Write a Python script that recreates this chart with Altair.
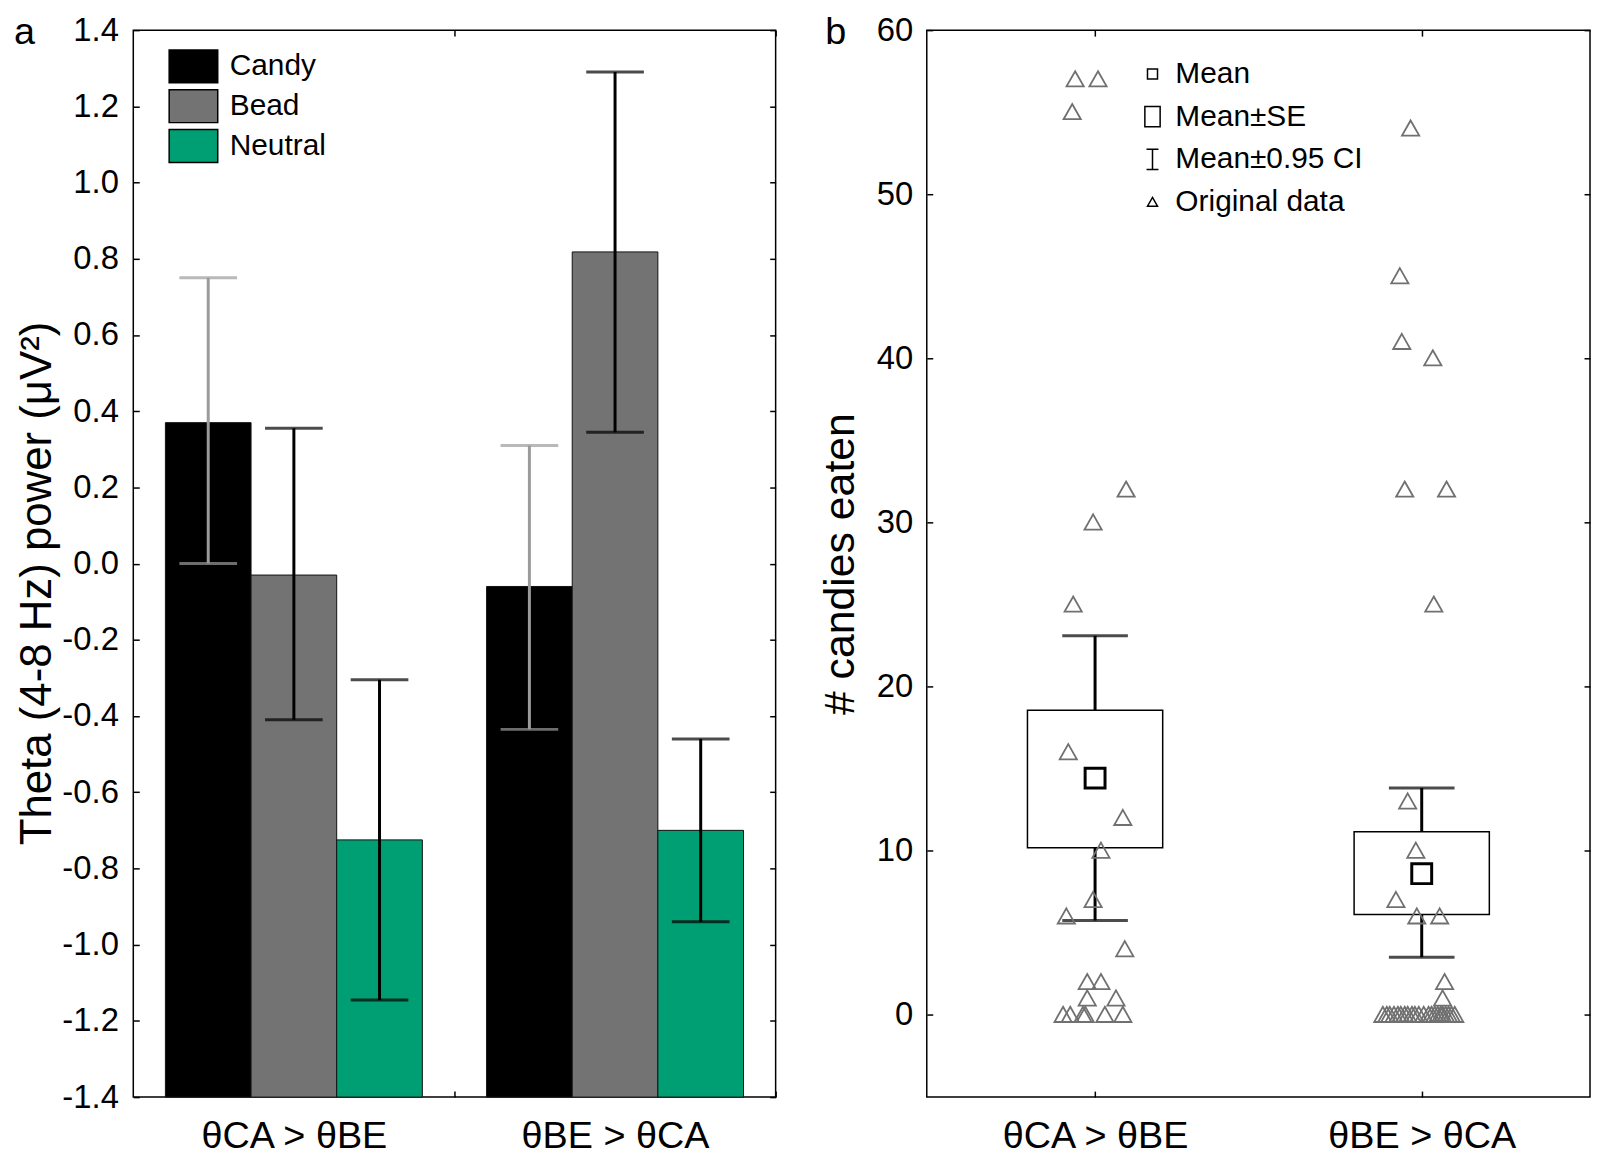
import json
import altair as alt
import pandas as pd

FONT = "Liberation Sans"

# ---------------- panel a : theta power ----------------
conditions = ["θCA > θBE", "θBE > θCA"]
stimuli = ["Candy", "Bead", "Neutral"]
stim_colors = ["#000000", "#737373", "#009E73"]

theta_mean_ca = [0.37, -0.03, -0.725]
theta_mean_be = [-0.06, 0.818, -0.70]
theta_ci_lo_ca = [0.0, -0.41, -1.145]
theta_ci_hi_ca = [0.75, 0.355, -0.305]
theta_ci_lo_be = [-0.435, 0.345, -0.94]
theta_ci_hi_be = [0.31, 1.29, -0.46]
theta_ticks = [-1.4, -1.2, -1.0, -0.8, -0.6, -0.4, -0.2, 0.0,
               0.2, 0.4, 0.6, 0.8, 1.0, 1.2, 1.4]

# ---------------- panel b : candies eaten ----------------
candies_ca = [57, 57, 55, 32, 30, 25, 16, 12, 10, 7, 6, 4, 2, 2, 1, 1,
              0, 0, 0, 0, 0, 0]
jitter_ca = [-0.061, 0.009, -0.070, 0.095, -0.006, -0.067, -0.082, 0.085,
             0.018, -0.006, -0.088, 0.091, -0.024, 0.018, -0.024, 0.064,
             -0.098, -0.076, -0.037, -0.030, 0.030, 0.085]
candies_be = [54, 45, 41, 40, 32, 32, 25, 13, 10, 7, 6, 6, 2, 1,
              0, 0, 0, 0, 0, 0, 0, 0, 0, 0, 0, 0, 0, 0, 0, 0, 0, 0, 0, 0, 0, 0]
jitter_be = [-0.034, -0.067, -0.061, 0.034, -0.052, 0.076, 0.037, -0.043,
             -0.018, -0.079, -0.015, 0.055, 0.070, 0.064,
             -0.119, -0.107, -0.098, -0.085, -0.073, -0.064, -0.052, -0.043,
             -0.030, -0.021, -0.009, 0.006, 0.021, 0.030, 0.040, 0.049,
             0.058, 0.064, 0.073, 0.082, 0.091, 0.101]
candy_mean = [14.43, 8.61]
candy_se_lo = [10.19, 6.12]
candy_se_hi = [18.56, 11.16]
candy_ci_lo = [5.76, 3.52]
candy_ci_hi = [23.11, 13.83]
candy_ticks = [0, 10, 20, 30, 40, 50, 60]
candy_range = [-5, 60]

legend_items = ["Mean", "Mean±SE", "Mean±0.95 CI", "Original data"]
legend_paths = [
    "M-0.42,-0.42H0.42V0.42H-0.42Z",
    "M-0.64,-0.85H0.64V0.85H-0.64Z",
    "M-0.5,-0.85H0.5M0,-0.85V0.85M-0.5,0.85H0.5",
    "M0,-0.4L0.42,0.34L-0.42,0.34Z",
]

# ---------------- tables ----------------
rows_a = []
for cond, means, los, his in [
    (conditions[0], theta_mean_ca, theta_ci_lo_ca, theta_ci_hi_ca),
    (conditions[1], theta_mean_be, theta_ci_lo_be, theta_ci_hi_be),
]:
    for stim, m, lo, hi in zip(stimuli, means, los, his):
        rows_a.append({"cond": cond, "stim": stim, "mean": m, "lo": lo, "hi": hi})
dfa = pd.DataFrame(rows_a)

pts = pd.DataFrame({
    "group": [conditions[0]] * len(candies_ca) + [conditions[1]] * len(candies_be),
    "candies": candies_ca + candies_be,
    "jitter": jitter_ca + jitter_be,
    "kind": legend_items[3],
})
summ = pd.DataFrame({
    "group": conditions,
    "mean": candy_mean,
    "se_lo": candy_se_lo,
    "se_hi": candy_se_hi,
    "ci_lo": candy_ci_lo,
    "ci_hi": candy_ci_hi,
    "kind": legend_items[0],
})

TICK_IN = {"expr": "-6"}
PLOT_H = 1073
PANEL_A_W = 646
HALF_STEP = PANEL_A_W / len(conditions) / 2  # ticks between the two groups

# ---------------- panel a chart ----------------
xa_scale = alt.Scale(domain=conditions, paddingInner=0.2, paddingOuter=0.1)
xoff = alt.XOffset("stim:N", scale=alt.Scale(domain=stimuli, paddingInner=0, paddingOuter=0))
ya_scale = alt.Scale(domain=[theta_ticks[0], theta_ticks[-1]], nice=False, zero=False)
neg_fmt = "datum.value < 0 ? '-' + format(-datum.value, '.1f') : format(datum.value, '.1f')"

bars = alt.Chart(dfa).mark_bar(stroke="#111111", strokeWidth=1).encode(
    x=alt.X("cond:N", scale=xa_scale, title=None,
            axis=alt.Axis(orient="bottom", labelAngle=0, labelFontSize=38, labelLimit=600,
                          labelPadding=27, tickOffset=HALF_STEP, labelOffset=-HALF_STEP,
                          tickSize=TICK_IN)),
    xOffset=xoff,
    y=alt.Y("mean:Q", scale=ya_scale,
            axis=alt.Axis(orient="left", values=theta_ticks, labelExpr=neg_fmt,
                          labelFontSize=33, labelPadding=21, tickSize=TICK_IN,
                          title="Theta (4-8 Hz) power (μV²)", titleFontSize=44,
                          titlePadding=2, titleY=556, titleLimit=2000)),
    y2=alt.datum(theta_ticks[0]),
    color=alt.Color("stim:N", scale=alt.Scale(domain=stimuli, range=stim_colors),
                    legend=alt.Legend(title=None, orient="none", legendX=43, legendY=19,
                                      symbolType="M-1.48,-1H1.48V1H-1.48Z",
                                      symbolSize=1089, labelFontSize=30, labelFont=FONT,
                                      labelColor="black", rowPadding=1, labelOffset=19,
                                      labelLimit=600,
                                      symbolStrokeColor="black", symbolStrokeWidth=1.5,
                                      padding=0)),
)

err_color = alt.condition(alt.datum.stim == stimuli[0], alt.value("#9b9b9b"), alt.value("#000000"))

whiskers = alt.Chart(dfa).mark_rule(strokeWidth=3).encode(
    x=alt.X("cond:N", scale=xa_scale, axis=None),
    xOffset=xoff,
    y=alt.Y("lo:Q", scale=ya_scale,
            axis=alt.Axis(orient="right", values=theta_ticks, labels=False,
                          tickSize=TICK_IN, title=None)),
    y2="hi:Q",
    color=err_color,
)

caps = alt.Chart(dfa).transform_fold(["lo", "hi"], as_=["end", "val"]).mark_tick(
    orient="horizontal", size=58, thickness=3
).encode(
    x=alt.X("cond:N", scale=xa_scale,
            axis=alt.Axis(orient="top", labels=False, tickOffset=HALF_STEP,
                          tickSize=TICK_IN, title=None)),
    xOffset=xoff,
    y=alt.Y("val:Q", scale=ya_scale, axis=None),
    color=err_color,
)

panel_a = alt.layer(bars, whiskers, caps).properties(
    width=PANEL_A_W, height=PLOT_H,
    title=alt.TitleParams("a", orient="none", anchor="start", dx=-120, dy=-16,
                          baseline="top", fontSize=38, font=FONT,
                          fontWeight="normal", color="black"),
)

# ---------------- panel b chart ----------------
gidx = f"indexof({json.dumps(conditions)}, datum.group)"
xvals = [i + 0.5 for i in range(len(conditions))]
xb_scale = alt.Scale(domain=[0, len(conditions)], nice=False, zero=False)
yb_scale = alt.Scale(domain=candy_range, nice=False, zero=False)
cond_label = f"{json.dumps(conditions)}[floor(datum.value)]"

shape_enc = alt.Shape(
    "kind:N", scale=alt.Scale(domain=legend_items, range=legend_paths),
    legend=alt.Legend(title=None, orient="none", legendX=1010, legendY=29,
                      symbolSize=576, labelFontSize=30, labelFont=FONT,
                      labelColor="black", labelOffset=8, rowPadding=13,
                      labelLimit=600,
                      symbolStrokeColor="black", symbolStrokeWidth=1.5,
                      symbolFillColor="transparent", padding=0),
)

base_s = alt.Chart(summ).transform_calculate(xpos=f"{gidx} + 0.5")

ci_rule = base_s.mark_rule(strokeWidth=3, color="black").encode(
    x=alt.X("xpos:Q", scale=xb_scale,
            axis=alt.Axis(orient="top", values=xvals, labels=False,
                          tickSize=TICK_IN, title=None)),
    y=alt.Y("ci_lo:Q", scale=yb_scale,
            axis=alt.Axis(orient="right", values=candy_ticks, labels=False,
                          tickSize=TICK_IN, title=None)),
    y2="ci_hi:Q",
)

ci_caps = base_s.transform_fold(["ci_lo", "ci_hi"], as_=["end", "val"]).mark_tick(
    orient="horizontal", size=66, thickness=3, color="black"
).encode(
    x=alt.X("xpos:Q", scale=xb_scale, axis=None),
    y=alt.Y("val:Q", scale=yb_scale, axis=None),
)

box = base_s.mark_bar(size=136, fill="white", stroke="black", strokeWidth=1.5).encode(
    x=alt.X("xpos:Q", scale=xb_scale, title=None,
            axis=alt.Axis(orient="bottom", values=xvals, labelExpr=cond_label,
                          labelFontSize=38, labelLimit=600, labelPadding=27,
                          tickSize=TICK_IN, labelAngle=0)),
    y=alt.Y("se_lo:Q", scale=yb_scale,
            axis=alt.Axis(orient="left", values=candy_ticks, labelFontSize=33,
                          labelPadding=20, tickSize=TICK_IN, title="# candies eaten",
                          titleFontSize=43, titlePadding=14, titleLimit=2000)),
    y2="se_hi:Q",
)

tri = alt.Chart(pts).transform_calculate(
    xpos=f"{gidx} + 0.5 + datum.jitter"
).mark_point(filled=False, size=1700, strokeWidth=1.8, color="#707070", opacity=1).encode(
    x=alt.X("xpos:Q", scale=xb_scale, axis=None),
    y=alt.Y("candies:Q", scale=yb_scale, axis=None),
    shape=shape_enc,
)

mean_pt = base_s.mark_point(filled=False, size=2270, strokeWidth=3, color="black", opacity=1).encode(
    x=alt.X("xpos:Q", scale=xb_scale, axis=None),
    y=alt.Y("mean:Q", scale=yb_scale, axis=None),
    shape=shape_enc,
)

panel_b = alt.layer(ci_rule, ci_caps, box, tri, mean_pt).properties(
    width=667, height=PLOT_H,
    title=alt.TitleParams("b", orient="none", anchor="start", dx=-102, dy=-16,
                          baseline="top", fontSize=38, font=FONT,
                          fontWeight="normal", color="black"),
)

chart = alt.hconcat(panel_a, panel_b, spacing=41).properties(
    padding={"left": 5, "top": 2, "right": 0, "bottom": 0}
).configure_view(
    stroke="black", strokeWidth=1.5
).configure_axis(
    labelFont=FONT, titleFont=FONT, labelColor="black", titleColor="black",
    titleFontWeight="normal", tickColor="black", tickWidth=1.5,
    domain=False, grid=False,
)

chart.save("out.html", embed_options={"renderer": "svg", "actions": False})
